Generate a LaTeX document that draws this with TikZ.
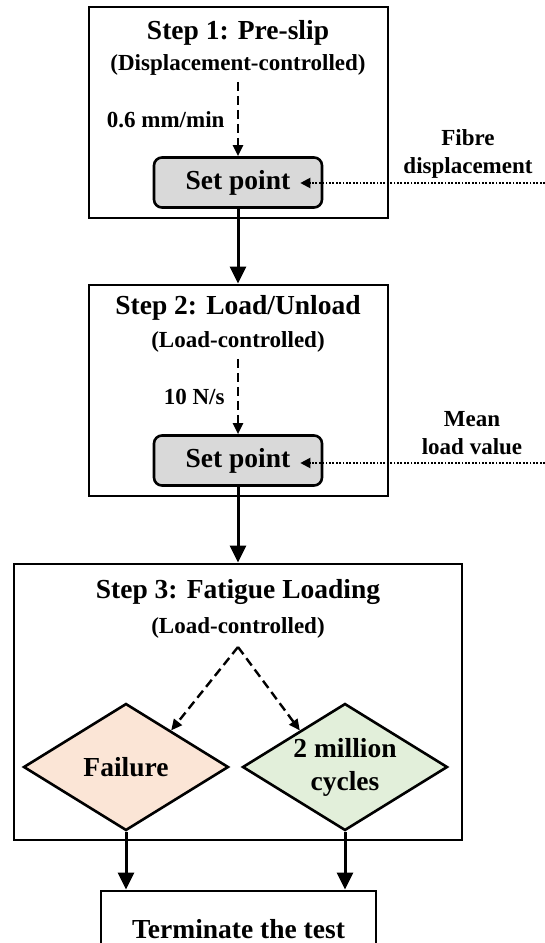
\documentclass[tikz,border=0pt]{standalone}
\usepackage{fontspec}
\setmainfont{Liberation Serif}
\usetikzlibrary{arrows.meta, positioning, shapes.geometric}

\definecolor{setgray}{HTML}{D9D9D9}
\definecolor{failfill}{HTML}{FBE5D6}
\definecolor{cycfill}{HTML}{E2EFDA}

\begin{document}
\begin{tikzpicture}[x=1pt, y=-1pt,
  every node/.style={font=\bfseries\fontsize{27.5}{33}\selectfont},
  small/.style={font=\bfseries\fontsize{23}{28}\selectfont},
  stepbox/.style={draw, line width=2.8pt, minimum width=299pt, minimum height=211pt},
  setbox/.style={draw, line width=2.6pt, rounded corners=8pt, fill=setgray,
    minimum width=168pt, minimum height=50pt},
  decide/.style={draw, diamond, aspect=1.6, line width=2.6pt, inner sep=0pt,
    minimum width=205pt, minimum height=127pt, align=center},
  main/.style={line width=3pt, -{Triangle[length=17pt, width=16pt]}},
  rate/.style={line width=2.4pt, dash pattern=on 9pt off 5pt, -{Triangle[length=11pt, width=10pt]}},
  feed/.style={line width=2pt, dash pattern=on 1.8pt off 1.6pt, -{Triangle[length=10pt, width=10pt]}}]
\path[use as bounding box, clip] (0,0) rectangle (545,943);
% Step 1
\node[stepbox] (box1) at (238.5,112.5) {};
\node (t1) at (238,33) {Step 1: Pre-slip};
\node[small] (c1) at (238,65) {(Displacement-controlled)};
\node[setbox] (set1) at (238,182.5) {Set point};
\node[small, anchor=east] (r1) at (228,120) {0.6 mm/min};
\node[small, align=center] (fb) at (468,154) {Fibre\\displacement};
\coordinate (in1) at (545,183);
\draw[rate, shorten <=3pt] (c1) -- (set1);
\draw[feed] (in1) -- ([xshift=-23pt]in1 -| set1.east);
% Step 2
\node[stepbox] (box2) at (238.5,390.5) {};
\node (t2) at (238,308) {Step 2: Load/Unload};
\node[small] (c2) at (238,342) {(Load-controlled)};
\node[setbox] (set2) at (238,460.5) {Set point};
\node[small, anchor=east] (r2) at (228,397) {10 N/s};
\node[small, align=center] (ml) at (472,433) {Mean\\load value};
\coordinate (in2) at (545,463);
\draw[rate, shorten <=3pt] (c2) -- (set2);
\draw[feed] (in2) -- ([xshift=-23pt]in2 -| set2.east);
\draw[main] (set1.south) -- (set1.south |- box2.north);
% Step 3
\node[stepbox, minimum width=448pt, minimum height=276pt] (box3) at (238,702) {};
\node (t3) at (238,592) {Step 3: Fatigue Loading};
\node[small] (c3) at (238,628) {(Load-controlled)};
\coordinate (split) at (238,647);
\node[decide, fill=failfill] (fail) at (126,767) {Failure};
\node[decide, fill=cycfill] (cyc) at (345,767) {2 million\\cycles};
\draw[rate] (split) -- (fail.39);
\draw[rate] (split) -- (cyc.141);
\draw[main] (set2.south) -- (set2.south |- box3.north);
% end of test
\node[draw, line width=2.8pt, minimum width=275pt, minimum height=76pt] (term) at (238.5,929) {Terminate the test};
\draw[main] (fail.south) -- (fail.south |- term.north);
\draw[main] (cyc.south) -- (cyc.south |- term.north);
\end{tikzpicture}
\end{document}
